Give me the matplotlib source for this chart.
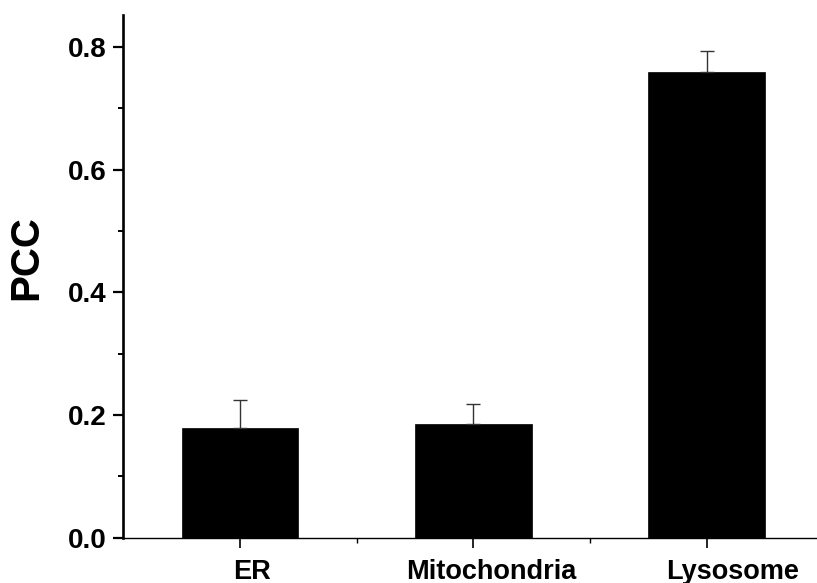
import matplotlib.pyplot as plt
from matplotlib.ticker import MultipleLocator, FixedLocator

plt.rcParams['font.family'] = ['Liberation Sans', 'DejaVu Sans']
plt.rcParams['font.weight'] = 'bold'

organelles = ["ER", "Mitochondria", "Lysosome"]
pcc_mean = [0.178, 0.186, 0.759]
pcc_err = [0.047, 0.032, 0.035]

fig = plt.figure(figsize=(8.17, 5.83), dpi=100)
ax = fig.add_axes([0.1509, 0.0777, 0.8491, 0.8966])

x = list(range(len(organelles)))
ax.bar(x, pcc_mean, width=0.5, color="black", edgecolor="black", linewidth=0.5)
ax.errorbar(x, pcc_mean, yerr=[[0] * len(pcc_err), pcc_err], fmt="none",
            ecolor="#333333", elinewidth=1.0, capsize=5, capthick=1.0)

ax.set_xlim(-0.5, 2.473)
ax.set_ylim(0, 0.852)

ax.set_xticks(x)
ax.set_xticklabels([])
ax.xaxis.set_minor_locator(FixedLocator([0.5, 1.5]))
ax.yaxis.set_major_locator(MultipleLocator(0.2))
ax.yaxis.set_minor_locator(MultipleLocator(0.1))
ax.set_yticklabels([f"{v:.1f}" for v in ax.get_yticks()], fontsize=20, fontweight="bold")

# category names, nudged a little right of their ticks
shifts = [8.6, 13.0, 18.7]
for xi, name, dx in zip(x, organelles, shifts):
    ax.annotate(name, xy=(xi, 0), xycoords=ax.get_xaxis_transform(),
                xytext=(dx, -15), textcoords="offset points",
                ha="center", va="top", fontsize=19.5, fontweight="bold",
                annotation_clip=False)

ax.tick_params(axis="y", which="major", direction="out", length=7, width=1.6, pad=5)
ax.tick_params(axis="y", which="minor", direction="out", length=3.5, width=1.4)
ax.tick_params(axis="x", which="major", direction="out", length=7, width=1.2)
ax.tick_params(axis="x", which="minor", direction="out", length=3.5, width=1.0)

for side in ["top", "right"]:
    ax.spines[side].set_visible(False)
ax.spines["left"].set_linewidth(1.9)
ax.spines["bottom"].set_linewidth(1.0)

ax.set_ylabel("PCC", fontsize=29, fontweight="bold")
ax.yaxis.set_label_coords(-0.112, 0.535)

fig.savefig("out.png", dpi=100)
